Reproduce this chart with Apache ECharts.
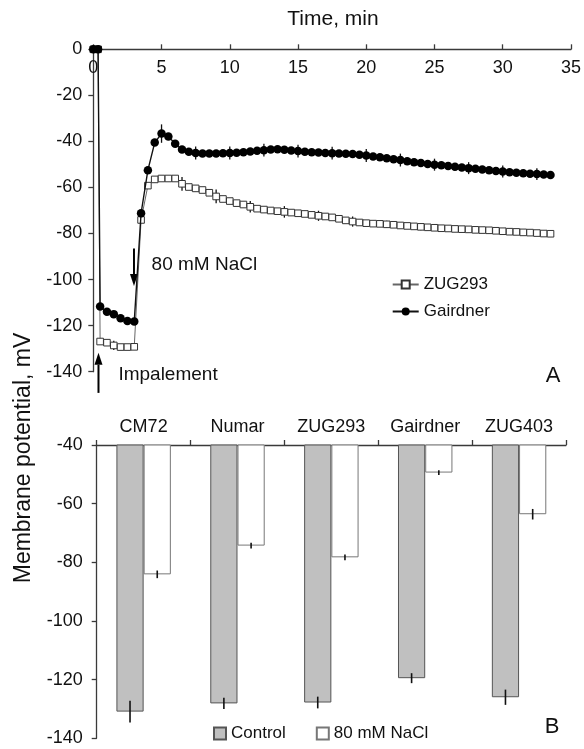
<!DOCTYPE html>
<html><head><meta charset="utf-8">
<script src="https://cdn.jsdelivr.net/npm/echarts@6/dist/echarts.min.js"></script>
<style>html,body{margin:0;padding:0;background:#fff}#c{width:584px;height:749px}</style>
</head><body><div id="c"></div>
<script>
// ---- Panel A data ----
const times = [0,0.35,0.5,1,1.5,2,2.5,3,3.5,4,4.5,5,5.5,6,6.5,7,7.5,8,8.5,9,9.5,10,10.5,11,11.5,12,12.5,13,13.5,14,14.5,15,15.5,16,16.5,17,17.5,18,18.5,19,19.5,20,20.5,21,21.5,22,22.5,23,23.5,24,24.5,25,25.5,26,26.5,27,27.5,28,28.5,29,29.5,30,30.5,31,31.5,32,32.5,33,33.5];
const gairdner = [0,0,-111.7,-114,-115,-116.8,-118,-118.2,-71.2,-52.5,-40.5,-36.6,-37.9,-41,-43.5,-44.5,-45,-45.2,-45.2,-45.2,-45.1,-45,-44.9,-44.7,-44.4,-44.1,-43.8,-43.5,-43.4,-43.6,-43.9,-44.2,-44.5,-44.7,-44.8,-45,-45.1,-45.3,-45.4,-45.5,-45.8,-46.1,-46.5,-46.9,-47.3,-47.7,-48.1,-48.6,-49,-49.4,-49.8,-50.1,-50.4,-50.7,-51,-51.3,-51.6,-51.9,-52.2,-52.5,-52.8,-53.1,-53.4,-53.6,-53.8,-54,-54.2,-54.4,-54.6];
const zug293 = [0,0,-126.9,-127.4,-128.6,-129.3,-129.3,-129.2,-74.1,-59.2,-56.5,-56.1,-56.1,-56.1,-58.4,-59.8,-60.4,-61.1,-62.3,-63.9,-65,-65.9,-66.8,-67.4,-68.4,-69.2,-69.6,-70,-70.3,-70.6,-70.9,-71.2,-71.5,-71.9,-72.3,-72.6,-73,-73.6,-74.3,-74.8,-75.2,-75.5,-75.7,-75.8,-76,-76.2,-76.5,-76.7,-76.9,-77.1,-77.3,-77.5,-77.7,-77.8,-78,-78.1,-78.2,-78.4,-78.5,-78.6,-78.8,-79,-79.2,-79.3,-79.5,-79.6,-79.8,-80,-80.1];
const gairdnerErr = [[5,4],[7.5,2.8],[10,2.8],[12.5,2.8],[15,2.8],[17.5,2.8],[20,2.8],[22.5,2.8],[25,2.6],[27.5,2.6],[30,2.6],[32.5,2.6]];
const zugErr = [[1.5,2],[6.5,3],[9,3],[11.5,2.5],[14,2.5],[16.5,2.2],[19,2.2],[21.5,1.5],[24,1.5]];
// ---- Panel B data ----
const categories = ['CM72','Numar','ZUG293','Gairdner','ZUG403'];
const control = [-130.9,-128.1,-127.8,-119.5,-126.0];
const controlErr = [3.7,1.9,2.0,1.7,2.6];
const nacl = [-84.1,-74.3,-78.3,-49.4,-63.6];
const naclErr = [1.3,1.0,1.0,0.8,1.8];

const FONT = 'Liberation Sans, Arial, sans-serif';
const TXT = '#111';
const AX = '#3a3a3a';

function lookup(arr, t){ return arr[times.indexOf(t)]; }
const errDataTop = gairdnerErr.map(d=>[d[0], lookup(gairdner,d[0]), d[1]])
  .concat(zugErr.map(d=>[d[0], lookup(zug293,d[0]), d[1]]));
const errDataBar = control.map((v,i)=>[i,v,controlErr[i],-1]).concat(nacl.map((v,i)=>[i,v,naclErr[i],1]));

const chart = echarts.init(document.getElementById('c'), null, {renderer:'canvas'});
const axisCommon = {
  axisLine:{show:true, onZero:false, lineStyle:{color:AX, width:1.3}},
  axisTick:{show:true, inside:false, length:5, lineStyle:{color:AX, width:1.3}},
  splitLine:{show:false}
};
const option = {
  animation:false,
  textStyle:{fontFamily:FONT},
  grid:[
    {left:93.3, top:49.3, width:480, height:322.4},
    {left:96.7, top:445, width:469.3, height:293.3}
  ],
  xAxis:[
    Object.assign({type:'value', gridIndex:0, position:'top', min:0, max:35, interval:5,
      axisLabel:{inside:true, margin:10, fontSize:18, color:TXT, fontFamily:FONT}}, axisCommon),
    Object.assign({type:'category', gridIndex:1, position:'top', data:categories,
      axisLabel:{margin:9, fontSize:18, color:TXT, fontFamily:FONT}}, axisCommon)
  ],
  yAxis:[
    Object.assign({type:'value', gridIndex:0, min:-140, max:0, interval:20,
      axisLabel:{margin:11, fontSize:18, color:TXT, fontFamily:FONT}}, axisCommon),
    Object.assign({type:'value', gridIndex:1, min:-140, max:-40, interval:20,
      axisLabel:{margin:14, fontSize:18, color:TXT, fontFamily:FONT}}, axisCommon)
  ],
  legend:[
    {data:['ZUG293','Gairdner'], orient:'vertical', left:386.7, top:271, itemWidth:26, itemHeight:10, itemGap:10,
     textStyle:{fontSize:17, color:TXT, fontFamily:FONT}, selectedMode:false},
    {data:['Control','80 mM NaCl'], orient:'horizontal', left:208, top:720, itemWidth:12, itemHeight:12, itemGap:30,
     icon:'rect', textStyle:{fontSize:17, color:TXT, fontFamily:FONT}, selectedMode:false}
  ],
  series:[
    {type:'custom', name:'errTop', xAxisIndex:0, yAxisIndex:0, data:errDataTop, z:1,
     renderItem:function(params, api){
       const t=api.value(0), v=api.value(1), e=api.value(2);
       const p1=api.coord([t,v+e]), p2=api.coord([t,v-e]);
       return {type:'line', shape:{x1:p1[0],y1:p1[1],x2:p2[0],y2:p2[1]}, style:{stroke:'#111', lineWidth:1.3}};
     }},
    {type:'line', name:'ZUG293', xAxisIndex:0, yAxisIndex:0, z:2,
     data:times.map((t,i)=>[t,zug293[i]]), symbol:'rect', symbolSize:6.6, showAllSymbol:true,
     itemStyle:{color:'#fff', borderColor:'#333', borderWidth:1},
     lineStyle:{color:'#666', width:1}},
    {type:'line', name:'Gairdner', xAxisIndex:0, yAxisIndex:0, z:3,
     data:times.map((t,i)=>[t,gairdner[i]]), symbol:'circle', symbolSize:8.5, showAllSymbol:true,
     itemStyle:{color:'#000', borderColor:'#000', borderWidth:0},
     lineStyle:{color:'#111', width:1.4}},
    {type:'bar', name:'Control', xAxisIndex:1, yAxisIndex:1, data:control, barWidth:'29%', barGap:'0%',
     itemStyle:{color:'#c0c0c0', borderColor:'#555', borderWidth:1}},
    {type:'bar', name:'80 mM NaCl', xAxisIndex:1, yAxisIndex:1, data:nacl, barWidth:'29%', barGap:'0%',
     itemStyle:{color:'#fff', borderColor:'#777', borderWidth:1}},
    {type:'custom', name:'errBar', xAxisIndex:1, yAxisIndex:1, data:errDataBar, z:5,
     renderItem:function(params, api){
       const idx=api.value(0), v=api.value(1), e=api.value(2), side=api.value(3);
       const c=api.coord([idx,v]);
       const bw=api.size([1,0])[0];
       const x=c[0]+side*bw*0.29/2;
       const y1=api.coord([idx,v+e])[1], y2=api.coord([idx,v-e])[1];
       return {type:'line', shape:{x1:x,y1:y1,x2:x,y2:y2}, style:{stroke:'#111', lineWidth:1.6}};
     }}
  ]
};
chart.setOption(option);

function px(t,v){ return chart.convertToPixel({gridIndex:0},[t,v]); }
function arrow(t, vTail, vTip){
  const a=px(t,vTail), b=px(t,vTip);
  const dir=Math.sign(b[1]-a[1]);
  const hl=12, hw=4;
  return [
    {type:'line', shape:{x1:a[0],y1:a[1],x2:b[0],y2:b[1]-dir*hl}, style:{stroke:'#000', lineWidth:2}},
    {type:'polygon', shape:{points:[[b[0],b[1]],[b[0]-hw,b[1]-dir*hl],[b[0]+hw,b[1]-dir*hl]]}, style:{fill:'#000'}}
  ];
}
const naclTxt = px(4.27,-93.6), impTxt = px(1.84,-141.4);
const graphics = [].concat(
  arrow(0.38,-149.2,-131.8),
  arrow(2.98,-86.5,-102.8),
  [
    {type:'text', x:naclTxt[0], y:naclTxt[1], style:{text:'80 mM NaCl', font:'19px '+FONT, fill:TXT, textAlign:'left', textVerticalAlign:'middle'}},
    {type:'text', x:impTxt[0], y:impTxt[1], style:{text:'Impalement', font:'19px '+FONT, fill:TXT, textAlign:'left', textVerticalAlign:'middle'}},
    {type:'text', x:333, y:19, style:{text:'Time, min', font:'21px '+FONT, fill:TXT, textAlign:'center', textVerticalAlign:'middle'}},
    {type:'text', x:553, y:376, style:{text:'A', font:'22px '+FONT, fill:TXT, textAlign:'center', textVerticalAlign:'middle'}},
    {type:'text', x:552, y:727, style:{text:'B', font:'22px '+FONT, fill:TXT, textAlign:'center', textVerticalAlign:'middle'}},
    {type:'text', x:24, y:458, rotation:Math.PI/2, style:{text:'Membrane potential, mV', font:'23px '+FONT, fill:TXT, textAlign:'center', textVerticalAlign:'middle'}}
  ]
);
chart.setOption({graphic:graphics});
</script>
</body></html>
